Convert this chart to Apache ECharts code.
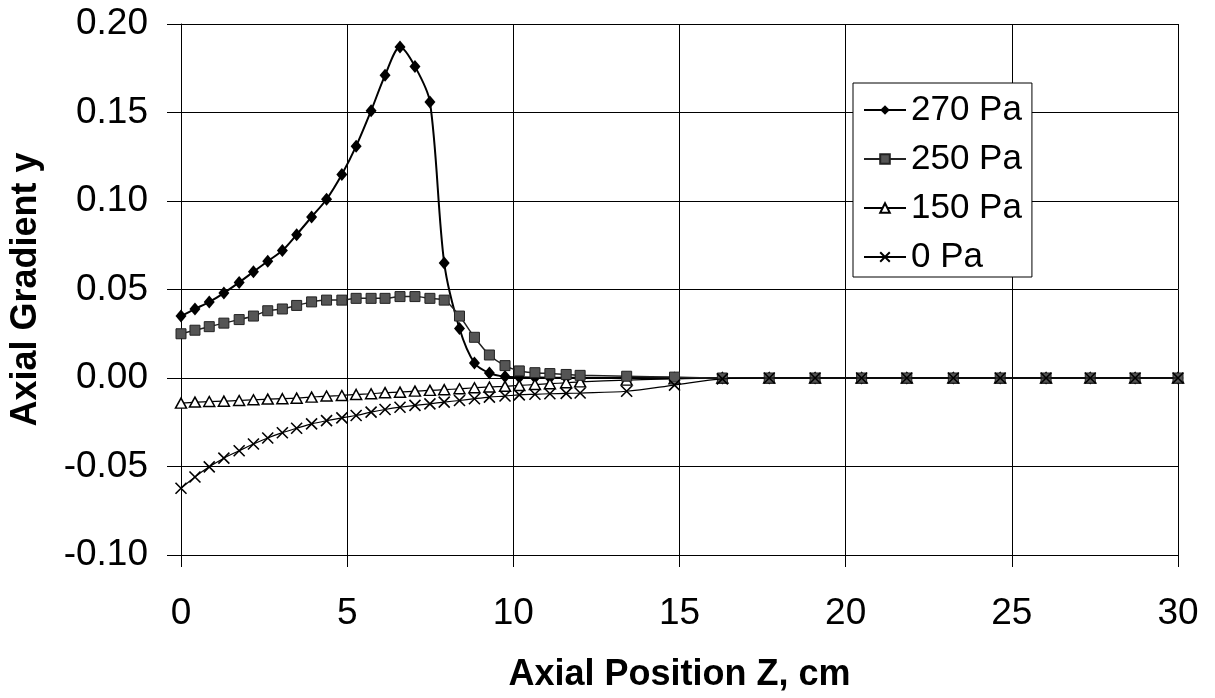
<!DOCTYPE html>
<html>
<head>
<meta charset="utf-8">
<title>Axial Gradient</title>
<script src="https://cdn.jsdelivr.net/npm/echarts@6/dist/echarts.min.js"></script>
<style>
  html, body { margin: 0; padding: 0; background: #fff; }
  #chart { width: 1215px; height: 698px; }
</style>
</head>
<body>
<div id="chart"></div>
<script>
  // axial position Z (cm), shared by all four series
  const zPos = [0, 0.42, 0.85, 1.29, 1.75, 2.18, 2.61, 3.05, 3.48, 3.93,
    4.38, 4.84, 5.27, 5.72, 6.14, 6.59, 7.04, 7.49, 7.92, 8.38,
    8.83, 9.28, 9.75, 10.18, 10.65, 11.10, 11.59, 12.01,
    13.41, 14.85, 16.29, 17.70, 19.08, 20.48, 21.84, 23.24, 24.65, 26.03, 27.36, 28.71, 30.0]

  const pa270 = [0.035, 0.039, 0.043, 0.048, 0.054, 0.060, 0.066, 0.072, 0.081, 0.091,
    0.101, 0.115, 0.131, 0.151, 0.171, 0.187, 0.176, 0.156, 0.065, 0.028,
    0.0085, 0.0028, 0.0008, 0.0004, 0.0003, 0.0002, 0.0002, 0.0001,
    0, 0, 0, 0, 0, 0, 0, 0, 0, 0, 0, 0, 0]
  const pa250 = [0.025, 0.027, 0.029, 0.031, 0.033, 0.035, 0.038, 0.039, 0.041, 0.043,
    0.044, 0.044, 0.045, 0.045, 0.045, 0.046, 0.046, 0.045, 0.044, 0.035,
    0.023, 0.013, 0.007, 0.004, 0.003, 0.0025, 0.002, 0.0015,
    0.001, 0.0005, 0, 0, 0, 0, 0, 0, 0, 0, 0, 0, 0]
  const pa150 = [-0.0142, -0.0136, -0.0133, -0.0131, -0.0127, -0.0123, -0.0119, -0.0117, -0.0114, -0.0108,
    -0.0102, -0.0099, -0.0093, -0.0089, -0.0083, -0.0080, -0.0074, -0.0070, -0.0066, -0.0061,
    -0.0055, -0.0051, -0.0047, -0.0042, -0.0037, -0.0032, -0.0027, -0.0022,
    -0.0012, -0.0005, 0, 0, 0, 0, 0, 0, 0, 0, 0, 0, 0]
  const pa0 = [-0.0623, -0.0559, -0.0502, -0.0453, -0.0411, -0.0373, -0.0339, -0.0309, -0.0284, -0.0259,
    -0.0241, -0.0225, -0.0212, -0.0193, -0.0178, -0.0165, -0.0155, -0.0146, -0.0136, -0.0127,
    -0.0117, -0.0108, -0.0102, -0.0095, -0.0092, -0.0089, -0.0087, -0.0085,
    -0.0075, -0.0040, -0.0005, 0, 0, 0, 0, 0, 0, 0, 0, 0, 0]

  const seriesNames = ['270 Pa', '250 Pa', '150 Pa', '0 Pa']
  const font = "'Liberation Sans', Arial, Helvetica, sans-serif"

  function pairs(ys) {
    return zPos.map((z, i) => [z, ys[i]])
  }

  const chart = echarts.init(document.getElementById('chart'))
  chart.setOption({
    animation: false,
    textStyle: { fontFamily: font, color: '#000' },
    grid: { left: 181, right: 37, top: 24, bottom: 141 },
    legend: {
      data: seriesNames,
      orient: 'vertical',
      left: 853,
      top: 83,
      padding: [7, 10, 0, 10],
      itemGap: 9,
      itemWidth: 42,
      itemHeight: 12,
      backgroundColor: '#fff',
      borderColor: '#000',
      borderWidth: 1,
      borderRadius: 0,
      textStyle: { fontSize: 35, lineHeight: 40, color: '#000', fontFamily: font }
    },
    xAxis: {
      type: 'value',
      min: 0,
      max: 30,
      interval: 5,
      name: 'Axial Position Z, cm',
      nameLocation: 'middle',
      nameGap: 102,
      nameTextStyle: { fontSize: 36, fontWeight: 'bold', color: '#000' },
      axisLine: { onZero: false, lineStyle: { color: '#000', width: 1 } },
      axisTick: { show: true, length: 12, lineStyle: { color: '#000' } },
      axisLabel: { fontSize: 37, color: '#000', margin: 40 },
      splitLine: { show: true, lineStyle: { color: '#000', width: 1 } }
    },
    yAxis: {
      type: 'value',
      min: -0.10,
      max: 0.20,
      interval: 0.05,
      name: 'Axial Gradient y',
      nameLocation: 'middle',
      nameGap: 137,
      nameTextStyle: { fontSize: 36, fontWeight: 'bold', color: '#000' },
      axisLine: { show: true, lineStyle: { color: '#000', width: 1 } },
      axisTick: { show: true, length: 14, lineStyle: { color: '#000' } },
      axisLabel: {
        fontSize: 37,
        color: '#000',
        margin: 33,
        formatter: v => v.toFixed(2)
      },
      splitLine: { show: true, lineStyle: { color: '#000', width: 1 } }
    },
    series: [
      {
        name: '270 Pa',
        type: 'line',
        z: 2,
        smooth: 0.3,
        data: pairs(pa270),
        symbol: 'diamond',
        symbolSize: [11, 13],
        lineStyle: { color: '#000', width: 2 },
        itemStyle: { color: '#000' }
      },
      {
        name: '250 Pa',
        type: 'line',
        z: 4,
        smooth: 0.3,
        data: pairs(pa250),
        symbol: 'rect',
        symbolSize: 10,
        lineStyle: { color: '#222', width: 1.5 },
        itemStyle: { color: '#555', borderColor: '#222', borderWidth: 1 }
      },
      {
        name: '150 Pa',
        type: 'line',
        z: 3,
        smooth: 0.3,
        data: pairs(pa150),
        symbol: 'triangle',
        symbolSize: [11, 10],
        lineStyle: { color: '#000', width: 1.2 },
        itemStyle: { color: '#fff', borderColor: '#000', borderWidth: 1.5 }
      },
      {
        name: '0 Pa',
        type: 'line',
        z: 5,
        smooth: 0.3,
        data: pairs(pa0),
        symbol: 'path://M0,0L10,10M10,0L0,10',
        symbolSize: 11,
        lineStyle: { color: '#000', width: 1.2 },
        itemStyle: { color: 'rgba(0,0,0,0)', borderColor: '#000', borderWidth: 1.6 }
      }
    ]
  })
</script>
</body>
</html>
